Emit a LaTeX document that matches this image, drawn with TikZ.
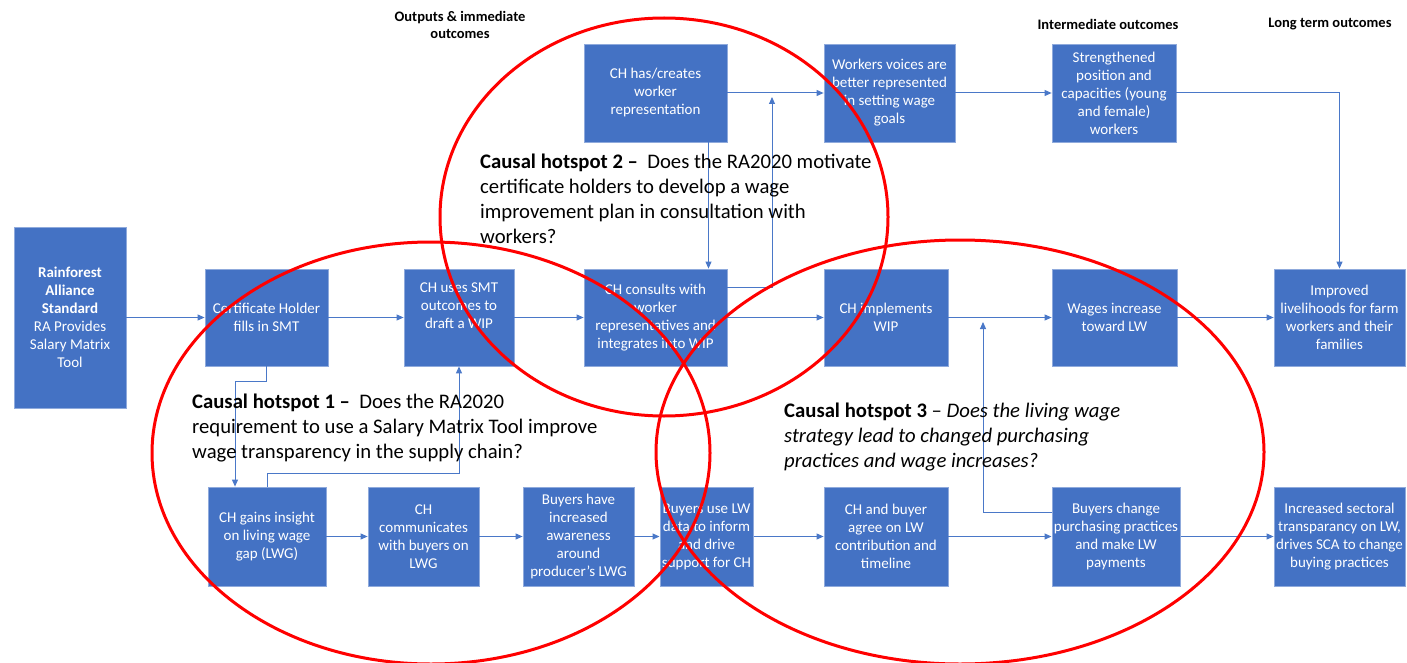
\documentclass[tikz,border=0pt]{standalone}
\usepackage{fontspec}
\setmainfont{Carlito}
\usetikzlibrary{arrows.meta}
\definecolor{boxblue}{HTML}{4472C4}
\definecolor{boxedge}{HTML}{8FAADC}
\definecolor{arrblue}{HTML}{4A78C8}
\definecolor{hotred}{HTML}{FF0000}
\tikzset{
  stepbox/.style={rectangle, fill=boxblue, draw=boxedge, line width=0.8pt, text=white,
    align=center, inner sep=2pt, font=\fontsize{15}{18}\selectfont},
  arr/.style={draw=arrblue, line width=1pt, -{Triangle[length=7pt,width=6pt]}},
  hot/.style={draw=hotred, line width=3pt},
  heading/.style={align=center, font=\fontsize{14.5}{17}\selectfont\bfseries},
  hottext/.style={align=left, anchor=north west, inner sep=0pt, font=\fontsize{20.7}{25}\selectfont},
}
\begin{document}
\begin{tikzpicture}[x=1pt,y=-1pt]
\useasboundingbox (0,0) rectangle (1407,663);
% top row
\node[stepbox, minimum width=143pt, minimum height=98pt] (chhas) at (655.5,93) {CH has/creates\\worker\\representation};
\node[stepbox, minimum width=131pt, minimum height=98pt] (voices) at (889.5,93) {Workers voices are\\better represented\\in setting wage\\goals};
\node[stepbox, minimum width=124pt, minimum height=98pt] (streng) at (1114,93) {Strengthened\\position and\\capacities (young\\and female)\\workers};
% middle row
\node[stepbox, minimum width=112pt, minimum height=181pt] (ra) at (70,317.5) {\textbf{Rainforest}\\\textbf{Alliance}\\\textbf{Standard}\\RA Provides\\Salary Matrix\\Tool};
\node[stepbox, minimum width=123pt, minimum height=97pt] (cert) at (266.5,317.5) {Certificate Holder\\fills in SMT};
\node[stepbox, minimum width=110pt, minimum height=97pt] (chuses) at (459,317.5) {CH uses SMT\\outcomes to\\draft a WIP\\\strut};
\node[stepbox, minimum width=143pt, minimum height=97pt] (consults) at (655.5,317.5) {CH consults with\\worker\\representatives and\\integrates into WIP};
\node[stepbox, minimum width=124pt, minimum height=97pt] (implements) at (886,317.5) {CH implements\\WIP};
\node[stepbox, minimum width=125pt, minimum height=97pt] (wages) at (1114.5,317.5) {Wages increase\\toward LW};
\node[stepbox, minimum width=131pt, minimum height=97pt] (improved) at (1339.5,317.5) {Improved\\livelihoods for farm\\workers and their\\families};
% bottom row
\node[stepbox, minimum width=118pt, minimum height=99pt] (gains) at (267,536.5) {CH gains insight\\on living wage\\gap (LWG)};
\node[stepbox, minimum width=111pt, minimum height=99pt] (comm) at (423.5,536.5) {CH\\communicates\\with buyers on\\LWG};
\node[stepbox, minimum width=111pt, minimum height=99pt] (aware) at (578.5,536.5) {Buyers have\\increased\\awareness\\around\\producer's LWG};
\node[stepbox, minimum width=93pt, minimum height=99pt] (buse) at (706.5,536.5) {Buyers use LW\\data to inform\\and drive\\support for CH};
\node[stepbox, minimum width=124pt, minimum height=99pt] (agree) at (886,536.5) {CH and buyer\\agree on LW\\contribution and\\timeline};
\node[stepbox, minimum width=128pt, minimum height=99pt] (bchange) at (1116,536.5) {Buyers change\\purchasing practices\\and make LW\\payments};
\node[stepbox, minimum width=131pt, minimum height=99pt] (sector) at (1339.5,536.5) {Increased sectoral\\transparancy on LW,\\drives SCA to change\\buying practices};
% headings
\node[heading] (h1) at (460,25) {Outputs \& immediate\\outcomes};
\node[heading] (h2) at (1108,24) {Intermediate outcomes};
\node[heading] (h3) at (1330,24) {Long term outcomes};
% connectors
\coordinate (up1) at (772,97);
\coordinate (up2) at (983,322);
\draw[arr] (ra) -- (cert);
\draw[arr] (cert) -- (chuses);
\draw[arr] (chuses) -- (consults);
\draw[arr] (consults) -- (implements);
\draw[arr] (implements) -- (wages);
\draw[arr] (wages) -- (improved);
\draw[arr] (chhas) -- (voices);
\draw[arr] (voices) -- (streng);
\draw[arr] (streng.east) -| (improved.north);
\draw[arr] ([xshift=53pt]chhas.south) -- ([xshift=53pt]consults.north);
\draw[arr] ([yshift=30pt]consults.east) -| (up1);
\draw[arr] (cert.south) -- ++(0,15) -| ([xshift=-32pt]gains.north);
\draw[arr] (gains.north) -- ++(0,-13) -| (chuses.south);
\draw[arr] (gains) -- (comm);
\draw[arr] (comm) -- (aware);
\draw[arr] (aware) -- (buse);
\draw[arr] (buse) -- (agree);
\draw[arr] (agree) -- (bchange);
\draw[arr] (bchange) -- (sector);
\draw[arr] ([yshift=24pt]bchange.west) -| (up2);
% hotspot texts
\node[hottext] (t2) at (480,154) {\textbf{Causal hotspot 2 –} \ Does the RA2020 motivate\\certificate holders to develop a wage\\improvement plan in consultation with\\workers?};
\node[hottext] (t1) at (192,393.5) {\textbf{Causal hotspot 1 –} \ Does the RA2020\\requirement to use a Salary Matrix Tool improve\\wage transparency in the supply chain?};
\node[hottext] (t3) at (784,403) {\textbf{Causal hotspot 3} – \textit{Does the living wage}\\\textit{strategy lead to changed purchasing}\\\textit{practices and wage increases?}};
% ellipses
\draw[hot] (664,217) ellipse [x radius=224pt, y radius=199pt];
\draw[hot] (431,453) ellipse [x radius=279pt, y radius=211pt];
\draw[hot] (960,452) ellipse [x radius=304pt, y radius=212pt];
\end{tikzpicture}
\end{document}
